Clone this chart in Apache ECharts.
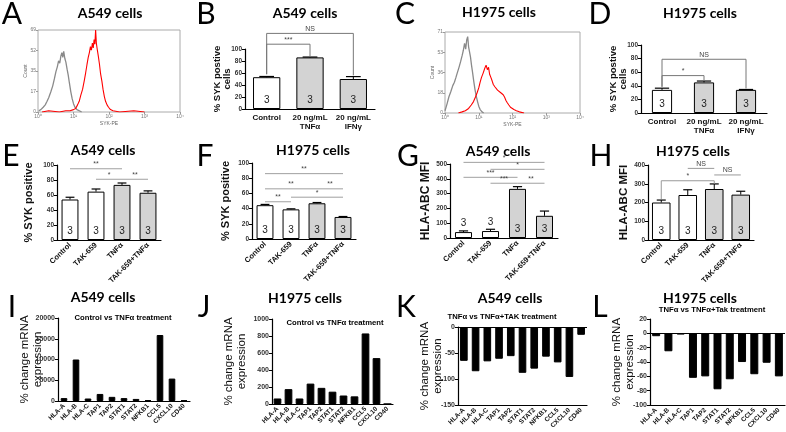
<!DOCTYPE html>
<html>
<head>
<meta charset="utf-8">
<script src="https://cdn.jsdelivr.net/npm/echarts@6/dist/echarts.min.js"></script>
<style>
  html, body { margin: 0; padding: 0; background: #fff; }
  #main { width: 786px; height: 432px; }
</style>
</head>
<body>
<div id="main"></div>
<script>
// --- data ---
const histAGray = [[1.05,1],[1.2,2],[1.4,4],[1.6,6],[1.8,9],[2.0,12],[2.3,17],[2.6,22],[2.9,28],[3.2,34],[3.5,38],[3.8,43],[4.1,41],[4.4,47],[4.7,50],[5.0,46],[5.3,51],[5.7,45],[6.1,42],[6.6,36],[7.1,31],[7.7,24],[8.4,17],[9.2,11],[10,7],[11,4],[12.5,2],[14,1],[17,0]];
const histARed = [[1.3,0],[2,1],[4,0],[6,1],[8,1],[10,2],[11.5,3],[13,6],[14.5,9],[16,14],[18,19],[20,26],[22,33],[24,40],[26,46],[28,50],[30,55],[32,52],[34,58],[36,54],[38,61],[40,57],[42,69],[44,58],[47,52],[50,47],[54,40],[58,32],[63,26],[68,19],[74,13],[80,9],[88,6],[97,4],[110,2],[130,1],[200,0],[500,1],[1000,0]];
const histCGray = [[1.0,2],[1.15,8],[1.3,14],[1.5,19],[1.7,24],[1.9,27],[2.1,31],[2.3,35],[2.6,40],[2.9,45],[3.2,50],[3.5,55],[3.8,61],[4.1,56],[4.4,64],[4.7,67],[5.0,58],[5.3,54],[5.7,49],[6.1,42],[6.6,35],[7.1,28],[7.7,21],[8.4,15],[9.2,10],[10,6],[11,3],[12.5,1],[14,0]];
const histCRed = [[2.5,0],[3.2,1],[4,2],[5,4],[6,7],[7,10],[8,14],[9,18],[10,22],[11,27],[12,31],[13.5,35],[15,39],[16.5,42],[18,38],[19.5,40],[21,34],[23,31],[25,28],[27,25],[30,23],[33,22],[36,20],[40,21],[44,18],[48,19],[53,16],[58,14],[64,11],[70,9],[78,7],[87,5],[97,4],[110,3],[130,2],[160,1],[220,0]];

const doseCats = ['Control', '20 ng/mL\nTNFα', '20 ng/mL\nIFNγ'];
const takCats = ['Control', 'TAK-659', 'TNFα', 'TAK-659+TNFα'];
const geneCats = ['HLA-A', 'HLA-B', 'HLA-C', 'TAP1', 'TAP2', 'STAT1', 'STAT2', 'NFKB1', 'CCL5', 'CXCL10', 'CD40'];
const n3 = [3, 3, 3];
const n4 = [3, 3, 3, 3];

const bMean = [53, 86, 50];
const bErr = [1.2, 0.6, 4];
const dMean = [34, 45, 34];
const dErr = [2.5, 2, 0.6];
const eMean = [54, 64.5, 73.5, 63];
const eErr = [3, 3.5, 2.5, 2.5];
const fMean = [44.5, 39, 47, 29];
const fErr = [1, 0.7, 1, 0.6];
const gMean = [40, 47, 332, 150];
const gErr = [8, 12, 15, 32];
const hMean = [200, 240, 272, 242];
const hErr = [13, 28, 27, 18];

const iVals = [700, 10000, 600, 1700, 1000, 700, 500, 200, 15900, 5400, 150];
const jVals = [65, 175, 65, 240, 190, 145, 100, 90, 830, 540, 0];
const kVals = [-65, -85, -66, -61, -56, -88, -80, -57, -68, -96, -15];
const lVals = [-4, -25, -1.5, -62, -60, -78, -64, -40, -57, -41, -60];

// significance brackets: [from, to, level, left drop, right drop, text]
const bSig = [[0, 2, 126, 58, 56, 'NS'], [0, 1, 108, 58, 88, '***']];
const dSig = [[0, 2, 79, 38, 36, 'NS'], [0, 1, 55, 39, 48, '*']];
const eSig = [[0, 2, 95, 95, 95, '**'], [1, 1.95, 81, 81, 81, '*'], [2.05, 3, 81, 81, 81, '**']];
const fSig = [[0, 3, 86, 86, 86, '**'], [0, 1.95, 66, 66, 66, '**'], [2.05, 3, 66, 66, 66, '**'], [1, 3, 55, 55, 55, '*'], [0, 1, 49, 49, 49, '**']];
const gSig = [[0, 3, 511, 511, 511, '*'], [1, 3, 464, 464, 464, '*'], [0, 2, 410, 410, 410, '***'], [1, 1.95, 370, 370, 370, '***'], [2.05, 3, 370, 370, 370, '**']];
const hSig = [[0, 2, 316, 218, 300, '*'], [1, 2, 382, 382, 382, 'NS'], [2, 3, 347, 347, 347, 'NS']];

const FONT = '"Liberation Sans", Arial, sans-serif';
const TFONT = 'Lato, "Open Sans", sans-serif';
const WHITE = '#ffffff';
const GRAY = '#d3d3d3';
const SUP = ['⁰', '¹', '²', '³', '⁴'];

const grids = [], xAxes = [], yAxes = [], series = [], graphics = [];

function txt(text, x, y, font, color) {
  graphics.push({
    type: 'text', x, y, silent: true,
    style: { text, font, fill: color || '#000', textAlign: 'center', textVerticalAlign: 'middle', align: 'center', verticalAlign: 'middle' }
  });
}

function errSeries(i, means, errs) {
  return {
    type: 'custom', xAxisIndex: i, yAxisIndex: i, clip: false, silent: true, z: 3,
    data: means.map((m, k) => [k, m, m + errs[k]]),
    renderItem(params, api) {
      const base = api.coord([api.value(0), api.value(1)]);
      const top = api.coord([api.value(0), api.value(2)]);
      const hw = api.size([1, 0])[0] * 0.17;
      return {
        type: 'group', children: [
          { type: 'line', shape: { x1: base[0], y1: base[1], x2: top[0], y2: top[1] }, style: { stroke: '#000', lineWidth: 1 } },
          { type: 'line', shape: { x1: top[0] - hw, y1: top[1], x2: top[0] + hw, y2: top[1] }, style: { stroke: '#000', lineWidth: 1.2 } }
        ]
      };
    }
  };
}

function sigSeries(i, list, color, width) {
  return {
    type: 'custom', xAxisIndex: i, yAxisIndex: i, clip: false, silent: true, z: 4,
    data: list.map(b => b.slice(0, 5)),
    renderItem(params, api) {
      const b = list[params.dataIndex];
      const pL = api.coord([b[0], b[2]]);
      const pR = api.coord([b[1], b[2]]);
      const dL = api.coord([b[0], b[3]]);
      const dR = api.coord([b[1], b[4]]);
      return {
        type: 'group', children: [
          { type: 'polyline', shape: { points: [dL, pL, pR, dR] }, style: { stroke: color, lineWidth: width, fill: null } },
          { type: 'text', x: (pL[0] + pR[0]) / 2, y: pL[1] - 1,
            style: { text: b[5], font: '7px ' + FONT, fill: '#444', textAlign: 'center', textVerticalAlign: 'bottom', align: 'center', verticalAlign: 'bottom' } }
        ]
      };
    }
  };
}

function barPanel(rect, o) {
  grids.push(rect);
  const i = grids.length - 1;
  xAxes.push({
    type: 'category', gridIndex: i, data: o.cats,
    axisLine: { onZero: false, lineStyle: { color: '#000', width: 1.2 } },
    axisTick: { show: false },
    axisLabel: { interval: 0, rotate: o.rotate || 0, fontFamily: FONT, fontWeight: 'bold', fontSize: o.catSize || 8, color: '#111', margin: o.catMargin || 4, lineHeight: 9 }
  });
  yAxes.push({
    type: 'value', gridIndex: i, min: o.yMin || 0, max: o.yMax, interval: o.yInt,
    name: o.yName, nameLocation: 'middle', nameGap: o.nameGap, nameRotate: 90, nameMoveOverlap: false,
    nameTextStyle: { fontFamily: FONT, fontWeight: o.nameWeight || 'bold', fontSize: o.nameSize, color: '#111', lineHeight: o.nameSize + 1 },
    axisLine: { show: true, lineStyle: { color: '#000', width: 1.2 } },
    axisTick: { show: true, length: 3, lineStyle: { color: '#000' } },
    axisLabel: { fontFamily: FONT, fontWeight: 'bold', fontSize: o.tickSize || 6.5, color: '#333', margin: 3, formatter: v => String(v) },
    splitLine: { show: false }
  });
  series.push({
    type: 'bar', xAxisIndex: i, yAxisIndex: i, barWidth: o.barWidth,
    data: o.vals.map((v, k) => {
      const d = { value: v, itemStyle: { color: o.fills ? o.fills[k] : '#000' } };
      if (o.nTop && o.nTop[k]) d.label = { position: 'top', distance: 4 };
      return d;
    }),
    itemStyle: { borderColor: '#000', borderWidth: 1 },
    label: o.n ? { show: true, position: 'insideBottom', distance: 4, formatter: p => o.n[p.dataIndex], fontFamily: FONT, fontSize: 10, color: '#222' } : { show: false },
    markLine: o.zeroLine ? { silent: true, symbol: 'none', label: { show: false }, lineStyle: { color: '#000', type: 'solid', width: 1.2 }, data: [{ yAxis: 0 }] } : undefined
  });
  if (o.errs) series.push(errSeries(i, o.vals, o.errs));
  if (o.sig) series.push(sigSeries(i, o.sig, o.sigColor || '#888', o.sigWidth || 0.8));
}

function histPanel(rect, gray, red, yMax) {
  grids.push(Object.assign({ show: true, borderColor: '#aaa', borderWidth: 1 }, rect));
  const i = grids.length - 1;
  xAxes.push({
    type: 'log', gridIndex: i, min: 1, max: 10000, logBase: 10,
    name: 'SYK-PE', nameLocation: 'middle', nameGap: 9, nameTextStyle: { fontSize: 5, color: '#666', fontFamily: FONT },
    axisLine: { show: false }, axisTick: { show: true, length: 2, lineStyle: { color: '#999' } },
    axisLabel: { fontSize: 5, color: '#777', margin: 2, formatter: v => '10' + SUP[Math.round(Math.log10(v))] },
    splitLine: { show: false }
  });
  yAxes.push({
    type: 'value', gridIndex: i, min: 0, max: yMax, interval: yMax / 4,
    name: 'Count', nameLocation: 'middle', nameGap: 10, nameRotate: 90, nameMoveOverlap: false,
    nameTextStyle: { fontSize: 5, color: '#666', fontFamily: FONT },
    axisLine: { show: false }, axisTick: { show: true, length: 2, lineStyle: { color: '#999' } },
    axisLabel: { fontSize: 5, color: '#777', margin: 2, formatter: v => Math.round(v) },
    splitLine: { show: false }
  });
  series.push({ type: 'line', xAxisIndex: i, yAxisIndex: i, data: gray, showSymbol: false, lineStyle: { color: '#8a8a8a', width: 1.3 }, silent: true });
  series.push({ type: 'line', xAxisIndex: i, yAxisIndex: i, data: red, showSymbol: false, lineStyle: { color: '#ff0000', width: 1.1 }, silent: true });
}

// ---- row 1 ----
histPanel({ left: 38, top: 30, width: 142, height: 82 }, histAGray, histARed, 69);
barPanel({ left: 245, top: 49, width: 130, height: 60 }, {
  cats: doseCats, vals: bMean, errs: bErr, fills: [WHITE, GRAY, GRAY], n: n3, sig: bSig, sigColor: '#777', sigWidth: 1,
  yMax: 100, yInt: 20, yName: '% SYK postive\ncells', nameGap: 12, nameSize: 9.5, barWidth: '63%'
});
histPanel({ left: 445, top: 32, width: 135, height: 81 }, histCGray, histCRed, 71);
barPanel({ left: 641, top: 45, width: 126, height: 68 }, {
  cats: doseCats, vals: dMean, errs: dErr, fills: [WHITE, GRAY, GRAY], n: n3, sig: dSig, sigColor: '#777', sigWidth: 1,
  yMax: 100, yInt: 20, yName: '% SYK postive\ncells', nameGap: 12, nameSize: 9.5, barWidth: '48%'
});

// ---- row 2 ----
barPanel({ left: 57, top: 165, width: 104, height: 75 }, {
  cats: takCats, vals: eMean, errs: eErr, fills: [WHITE, WHITE, GRAY, GRAY], n: n4, sig: eSig,
  yMax: 100, yInt: 20, yName: '% SYK positive', nameGap: 22, nameSize: 11, barWidth: '65%', rotate: 45, catSize: 7.5
});
barPanel({ left: 252, top: 163, width: 104, height: 76 }, {
  cats: takCats, vals: fMean, errs: fErr, fills: [WHITE, WHITE, GRAY, GRAY], n: n4, sig: fSig,
  yMax: 100, yInt: 20, yName: '% SYK positive', nameGap: 20, nameSize: 11, barWidth: '65%', rotate: 45, catSize: 7.5
});
barPanel({ left: 450, top: 164, width: 108, height: 74 }, {
  cats: takCats, vals: gMean, errs: gErr, fills: [WHITE, WHITE, GRAY, GRAY], n: n4, nTop: [true, true, false, false], sig: gSig,
  yMax: 500, yInt: 100, yName: 'HLA-ABC MFI', nameGap: 18, nameSize: 12, barWidth: '63%', rotate: 45, catSize: 7.5
});
barPanel({ left: 648, top: 165, width: 106, height: 75 }, {
  cats: takCats, vals: hMean, errs: hErr, fills: [WHITE, WHITE, GRAY, GRAY], n: n4, sig: hSig, sigColor: '#999', sigWidth: 1,
  yMax: 400, yInt: 100, yName: 'HLA-ABC MFI', nameGap: 18, nameSize: 11.5, barWidth: '70%', rotate: 45, catSize: 7.5
});

// ---- row 3 ----
barPanel({ left: 58, top: 318, width: 132, height: 83 }, {
  cats: geneCats, vals: iVals, yMax: 20000, yInt: 5000, yName: '% change mRNA\nexpression', nameGap: 14, nameSize: 11.5, nameWeight: 'normal',
  barWidth: '55%', rotate: 45, catSize: 6.5, tickSize: 7
});
barPanel({ left: 272, top: 319, width: 121, height: 85 }, {
  cats: geneCats, vals: jVals, yMax: 1000, yInt: 200, yName: '% change mRNA\nexpression', nameGap: 24, nameSize: 11.5, nameWeight: 'normal',
  barWidth: '70%', rotate: 45, catSize: 6.5, tickSize: 7
});
barPanel({ left: 458, top: 327, width: 129, height: 81 }, {
  cats: geneCats, vals: kVals, yMin: -150, yMax: 0, yInt: 50, yName: '% change mRNA\nexpression', nameGap: 14, nameSize: 11.5, nameWeight: 'normal',
  barWidth: '65%', rotate: 45, catSize: 6.5, tickSize: 7, zeroLine: true
});
barPanel({ left: 650, top: 319, width: 135, height: 87 }, {
  cats: geneCats, vals: lVals, yMin: -100, yMax: 20, yInt: 20, yName: '% change mRNA\nexpression', nameGap: 14, nameSize: 11.5, nameWeight: 'normal',
  barWidth: '65%', rotate: 45, catSize: 6.5, tickSize: 7, zeroLine: true
});

// ---- panel letters, titles, subtitles ----
const LETTER = '30px ' + TFONT;
const TITLE = 'bold 14px ' + TFONT;
const SUB = 'bold 7.7px ' + FONT;
[['A', 12, 14], ['B', 206, 14], ['C', 405, 14], ['D', 600, 14],
 ['E', 11, 156], ['F', 205, 156], ['G', 408, 156], ['H', 601, 156],
 ['I', 12, 307], ['J', 204, 307], ['K', 406, 307], ['L', 600, 307]].forEach(l => txt(l[0], l[1], l[2], LETTER));
[['A549 cells', 110, 13], ['A549 cells', 305, 13], ['H1975 cells', 499, 12], ['H1975 cells', 700, 13],
 ['A549 cells', 103, 150], ['H1975 cells', 313, 150], ['A549 cells', 498, 151], ['H1975 cells', 693, 151],
 ['A549 cells', 103, 297], ['H1975 cells', 305, 298], ['A549 cells', 510, 298], ['H1975 cells', 700, 298]].forEach(t => txt(t[0], t[1], t[2], TITLE));
[['Control vs TNFα treatment', 123, 318], ['Control vs TNFα treatment', 335, 323],
 ['TNFα vs TNFα+TAK treatment', 502, 317], ['TNFα vs TNFα+Tak treatment', 712, 310]].forEach(t => txt(t[0], t[1], t[2], SUB));

const chart = echarts.init(document.getElementById('main'), null, { renderer: 'canvas' });
chart.setOption({
  animation: false,
  backgroundColor: '#fff',
  grid: grids,
  xAxis: xAxes,
  yAxis: yAxes,
  series: series,
  graphic: graphics
});
</script>
</body>
</html>
